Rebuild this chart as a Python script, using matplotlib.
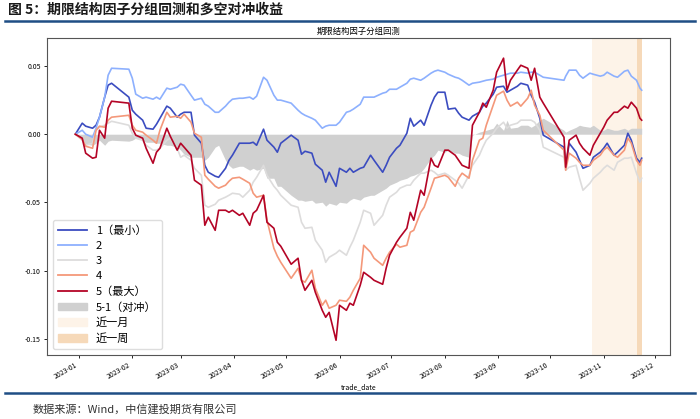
import numpy as np
import pandas as pd
import matplotlib
matplotlib.use("Agg")
import matplotlib.pyplot as plt
import matplotlib.dates as mdates
from matplotlib.patches import Patch
from matplotlib.lines import Line2D

plt.rcParams['font.family'] = ['Noto Sans CJK SC', 'DejaVu Sans']
plt.rcParams['axes.unicode_minus'] = False

dates = [
    "2022-12-30", "2023-01-03", "2023-01-05", "2023-01-09", "2023-01-11", "2023-01-13",
    "2023-01-16", "2023-01-18", "2023-01-20", "2023-01-30", "2023-02-01", "2023-02-03",
    "2023-02-07", "2023-02-09", "2023-02-13", "2023-02-15", "2023-02-17", "2023-02-21",
    "2023-02-23", "2023-02-27", "2023-03-01", "2023-03-03", "2023-03-07", "2023-03-09",
    "2023-03-13", "2023-03-15", "2023-03-17", "2023-03-21", "2023-03-23", "2023-03-27",
    "2023-03-29", "2023-03-31", "2023-04-04", "2023-04-06", "2023-04-10", "2023-04-12",
    "2023-04-14", "2023-04-18", "2023-04-20", "2023-04-24", "2023-04-26", "2023-04-28",
    "2023-05-04", "2023-05-08", "2023-05-10", "2023-05-12", "2023-05-16", "2023-05-18",
    "2023-05-22", "2023-05-24", "2023-05-26", "2023-05-30", "2023-06-01", "2023-06-05",
    "2023-06-07", "2023-06-09", "2023-06-13", "2023-06-15", "2023-06-19", "2023-06-21",
    "2023-06-26", "2023-06-28", "2023-06-30", "2023-07-04", "2023-07-06", "2023-07-10",
    "2023-07-12", "2023-07-14", "2023-07-18", "2023-07-20", "2023-07-24", "2023-07-26",
    "2023-07-28", "2023-08-01", "2023-08-03", "2023-08-07", "2023-08-09", "2023-08-11",
    "2023-08-15", "2023-08-17", "2023-08-21", "2023-08-23", "2023-08-25", "2023-08-29",
    "2023-08-31", "2023-09-04", "2023-09-06", "2023-09-08", "2023-09-12", "2023-09-14",
    "2023-09-18", "2023-09-20", "2023-09-22", "2023-09-25", "2023-09-27", "2023-10-09",
    "2023-10-10", "2023-10-12", "2023-10-16", "2023-10-18", "2023-10-20", "2023-10-24",
    "2023-10-26", "2023-10-30", "2023-11-01", "2023-11-03", "2023-11-07", "2023-11-09",
    "2023-11-13", "2023-11-15", "2023-11-17", "2023-11-20", "2023-11-22", "2023-11-23",
]

g1 = [
    0.00, 0.81, 0.59, 0.44, 0.66, 1.25, 2.72, 3.60, 3.74, 2.72, 1.76, 1.47,
    1.03, 0.44, 0.37, 0.73, 1.17, 2.06, 1.91, 1.25, 1.47, 1.61, 1.61, -0.07,
    -0.66, -2.28, -2.79, -3.08, -3.16, -2.50, -1.91, -1.54, -0.66, -0.66, -0.66, -0.59,
    -0.81, 0.37, -0.44, -0.95, -1.32, -0.66, -0.07, -0.44, -1.47, -1.25, -1.39, -2.20,
    -2.64, -3.52, -2.79, -3.82, -2.50, -2.79, -2.50, -2.79, -2.50, -2.42, -1.54, -1.91,
    -2.79, -2.28, -1.69, -1.03, -0.81, 0.07, 1.17, 0.59, 1.03, 0.66, 2.13, 2.72,
    3.08, 3.08, 1.84, 1.91, 1.54, 1.25, 1.03, 1.32, 1.61, 2.06, 2.28, 2.94,
    3.45, 3.52, 3.08, 3.23, 3.52, 3.74, 3.60, 2.86, 2.35, 1.17, -0.07, -0.95,
    -2.42, -0.66, -1.32, -1.91, -2.50, -2.28, -1.69, -1.32, -1.03, -0.66, -1.54, -1.32,
    -0.81, 0.07, -0.44, -1.76, -2.06, -1.76,
]

g2 = [
    0.00, 0.29, 0.00, -0.22, 0.44, 1.25, 2.72, 4.33, 4.84, 4.77, 4.11, 2.94,
    2.64, 2.72, 2.57, 2.72, 2.57, 3.38, 3.30, 3.45, 3.67, 3.60, 2.86, 2.50,
    2.64, 2.20, 2.06, 1.61, 1.61, 2.06, 2.35, 2.57, 2.64, 2.64, 2.72, 2.57,
    2.79, 4.18, 3.96, 2.86, 2.50, 2.50, 2.28, 1.76, 1.54, 1.39, 1.17, 1.03,
    0.44, 0.59, 0.66, 0.66, 0.88, 1.61, 1.69, 1.84, 2.20, 2.72, 2.72, 2.72,
    3.01, 3.08, 3.30, 3.30, 3.45, 3.74, 4.04, 4.11, 3.96, 4.11, 4.48, 4.62,
    4.70, 4.55, 4.40, 4.18, 4.11, 3.96, 3.60, 3.74, 3.82, 3.89, 3.96, 4.04,
    4.18, 4.33, 4.40, 4.48, 4.48, 4.55, 4.48, 4.55, 4.55, 4.33, 4.18, 3.96,
    4.26, 4.70, 4.70, 4.33, 4.11, 4.48, 4.40, 4.26, 4.33, 4.55, 4.26, 4.18,
    4.62, 4.70, 4.26, 3.96, 3.38, 3.23,
]

g3 = [
    0.00, -0.44, -0.81, -0.66, 0.29, 0.51, 0.66, 0.81, 0.95, 0.66, 0.07, -0.29,
    -0.44, -0.81, -1.17, -1.17, -1.03, -0.44, -0.29, -1.03, -1.69, -1.54, -1.91, -2.50,
    -3.01, -5.21, -5.36, -5.14, -4.84, -4.62, -4.48, -4.33, -4.40, -4.62, -4.11, -3.52,
    -3.16, -2.28, -3.01, -3.82, -4.11, -4.48, -5.21, -5.36, -6.46, -6.90, -6.83, -7.78,
    -8.51, -9.40, -9.03, -8.73, -8.51, -8.88, -8.29, -7.78, -6.46, -5.58, -5.80, -6.68,
    -5.95, -5.21, -4.62, -4.26, -3.96, -3.74, -3.74, -3.38, -2.86, -2.86, -2.64, -2.79,
    -3.01, -2.86, -3.01, -3.38, -3.60, -3.96, -3.01, -2.28, -1.54, -0.95, -0.44, 0.07,
    0.44, 0.88, 0.44, 0.66, 0.81, 1.03, 1.03, 1.03, 0.88, 0.29, -0.95, -1.69,
    -2.64, -2.42, -2.28, -3.23, -4.11, -3.60, -3.23, -2.79, -2.50, -2.28, -2.64, -2.06,
    -1.76, -1.76, -1.69, -2.86, -3.52, -3.23,
]

g4 = [
    0.00, -0.37, -0.88, -1.03, 0.29, 0.59, 0.51, 1.03, 1.25, 1.39, 0.66, 0.29,
    0.15, -0.07, -0.44, -0.66, 0.29, 1.61, 1.25, 1.32, 1.17, 1.47, 0.88, 0.07,
    -0.22, -3.01, -3.30, -3.82, -3.96, -3.74, -3.45, -3.23, -3.16, -3.30, -3.60, -4.33,
    -4.62, -4.48, -6.31, -8.37, -8.95, -9.40, -10.57, -9.84, -10.72, -10.86, -9.98, -11.30,
    -12.55, -12.18, -12.77, -12.55, -12.18, -12.26, -11.96, -11.45, -10.57, -8.15, -8.66, -9.10,
    -9.62, -9.10, -8.66, -8.07, -8.29, -8.15, -7.19, -7.05, -5.73, -5.36, -3.96, -3.23,
    -3.16, -3.01, -3.16, -3.82, -3.23, -2.86, -3.23, -1.91, -0.44, -0.29, 0.66, 2.13,
    2.86, 3.16, 2.50, 2.06, 2.35, 2.06, 2.64, 3.23, 2.13, 1.39, 0.29, -1.17,
    -2.64, -1.39, -1.76, -2.06, -2.28, -2.28, -1.91, -1.54, -1.17, -0.95, -1.54, -1.69,
    -1.17, -0.29, -0.66, -1.91, -2.28, -1.91,
]

g5 = [
    0.00, -0.29, -1.39, -1.76, -1.69, 0.29, -0.29, 1.91, 2.42, 2.28, 0.44, -0.07,
    -0.29, -1.03, -2.13, -1.32, -1.03, 0.44, -0.15, -1.17, -0.66, -0.95, -1.54, -3.38,
    -3.74, -6.68, -6.09, -7.05, -5.58, -5.58, -5.73, -5.58, -5.95, -5.80, -6.68, -5.80,
    -5.58, -4.48, -6.46, -6.90, -7.93, -8.22, -9.54, -9.10, -10.72, -11.45, -10.72, -11.60,
    -12.92, -13.43, -13.07, -15.12, -12.55, -12.92, -12.40, -12.55, -11.08, -10.13, -10.50, -10.72,
    -11.01, -9.84, -8.88, -7.93, -7.56, -6.90, -5.73, -6.31, -4.11, -4.48, -1.76, -2.28,
    -2.42, -1.17, -1.17, -1.54, -1.91, -2.28, -2.50, 0.66, 1.61, 2.28, 1.98, 3.23,
    4.55, 5.58, 3.23, 3.96, 4.70, 5.06, 4.84, 3.96, 4.84, 2.72, 2.28, -0.22,
    -2.42, -0.44, -0.07, -0.66, -1.03, -1.54, -0.81, 0.07, 0.51, 1.03, 1.61, 1.61,
    2.06, 1.91, 2.35, 1.91, 1.17, 1.03,
]

hedge = [
    0.00, -0.44, -0.73, -0.81, -0.66, -0.44, -0.81, -0.51, -0.44, -0.51, -0.44, -0.29,
    -0.44, -0.59, -0.59, -0.66, -0.66, -0.81, -0.81, -0.95, -1.17, -1.47, -1.69, -1.69,
    -1.69, -1.91, -1.69, -0.95, -0.81, -1.91, -2.28, -2.50, -2.35, -2.35, -2.64, -2.50,
    -2.64, -2.50, -3.23, -3.23, -3.82, -3.82, -4.48, -4.84, -4.84, -4.92, -4.84, -5.06,
    -4.99, -5.28, -5.06, -5.21, -4.99, -5.06, -4.84, -4.70, -4.84, -4.62, -4.48, -4.48,
    -4.11, -3.96, -3.74, -3.52, -3.38, -3.23, -3.08, -3.01, -2.79, -2.50, -1.76, -1.54,
    -1.17, -1.32, -1.17, -1.39, -1.39, -1.54, -1.69, -0.07, 0.15, 0.22, 0.29, 0.44,
    0.81, 0.29, 1.03, 0.44, 0.51, 0.66, 0.66, 0.51, 0.66, 1.03, 1.17, 0.29,
    0.15, 0.29, 0.51, 0.66, 0.59, 0.51, 0.66, 0.29, 0.29, 0.44, 0.29, 0.29,
    0.44, 0.29, 0.44, 0.44, 0.44, 0.44,
]

labels = ["1（最小）", "2", "3", "4", "5（最大）"]
month_span = ("2023-10-25", "2023-11-23")
week_span = ("2023-11-20", "2023-11-23")

df = pd.DataFrame({"g1": g1, "g2": g2, "g3": g3, "g4": g4, "g5": g5, "hedge": hedge},
                  index=pd.to_datetime(dates)) / 100

colors = [plt.cm.coolwarm(v) for v in np.linspace(0, 1, 5)]
fill_color = "#d0d0d0"
month_color = "#fdf3e8"
week_color = "#f6d9b9"

fig = plt.figure(figsize=(7, 4.19), dpi=100)

# report header / footer
fig.text(8 / 700, 1 - 10 / 419, "图 5：期限结构因子分组回测和多空对冲收益",
         fontsize=10, fontweight="bold", color="#1a1a1a", va="center", ha="left")
fig.add_artist(Line2D([5 / 700, 695 / 700], [1 - 21 / 419, 1 - 21 / 419],
                      color="#1f4e85", lw=1.8))
fig.add_artist(Line2D([5 / 700, 695 / 700], [1 - 393 / 419, 1 - 393 / 419],
                      color="#1f4e85", lw=1.8))
fig.text(33 / 700, 1 - 409 / 419, "数据来源：Wind，中信建投期货有限公司",
         fontsize=8, style="italic", color="#333333", va="center", ha="left")

ax = fig.add_axes([47 / 700, 1 - 355 / 419, 623 / 700, 317 / 419])

ax.axvspan(pd.Timestamp(month_span[0]), pd.Timestamp(month_span[1]),
           color=month_color, lw=0, zorder=0)
ax.axvspan(pd.Timestamp(week_span[0]), pd.Timestamp(week_span[1]),
           color=week_color, lw=0, zorder=0)
ax.fill_between(df.index, 0, df["hedge"], color=fill_color, lw=0, zorder=1)

for col, c in zip(["g1", "g2", "g3", "g4", "g5"], colors):
    ax.plot(df.index, df[col], color=c, lw=1.2, zorder=2)

handles = [Line2D([], [], color=c, lw=1.3) for c in colors]
handles += [Patch(color=fill_color), Patch(color=month_color), Patch(color=week_color)]
names = labels + ["5-1（对冲）", "近一月", "近一周"]
ax.legend(handles, names, loc="lower left", fontsize=8, handlelength=2.6,
          labelspacing=0.45, borderpad=0.5, framealpha=1, edgecolor="#dddddd")

ax.set_title("期限结构因子分组回测", fontsize=6, pad=3)
ax.set_xlabel("trade_date", fontsize=5, labelpad=2)
ax.xaxis.set_major_locator(mdates.MonthLocator())
ax.xaxis.set_major_formatter(mdates.DateFormatter("%Y-%m"))
ax.set_ylim(-0.162, 0.0706)
ax.set_yticks([0.05, 0.0, -0.05, -0.10, -0.15])
ax.yaxis.set_major_formatter(plt.FormatStrFormatter("%.2f"))
ax.tick_params(labelsize=5, length=2.5, width=0.6, pad=2)
for lab in ax.get_xticklabels():
    lab.set_rotation(30)
    lab.set_ha("right")
for s in ax.spines.values():
    s.set_color("#555555")
    s.set_linewidth(0.8)

fig.savefig("out.png", dpi=100)
